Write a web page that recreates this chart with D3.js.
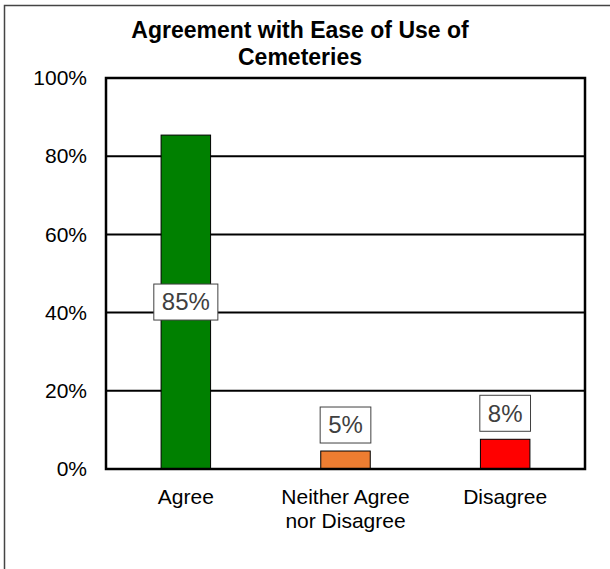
<!DOCTYPE html>
<html>
<head>
<meta charset="utf-8">
<script src="https://cdn.jsdelivr.net/npm/d3@7"></script>
<style>
  body { margin: 0; background: #fff; }
  svg text { font-family: "Liberation Sans", Arial, sans-serif; }
</style>
</head>
<body>
<div id="chart"></div>
<script>
// chart data
var categories = ["Agree", "Neither Agree|nor Disagree", "Disagree"];
var values = [0.854, 0.046, 0.076];
var colors = ["#008000", "#ED7D31", "#FF0000"];
var yTicks = [0, 0.2, 0.4, 0.6, 0.8, 1];
var titleLines = ["Agreement with Ease of Use of", "Cemeteries"];

var W = 610, H = 569;
var margin = { top: 78, right: 25, bottom: 100, left: 106 },
  width = W - margin.left - margin.right,
  height = H - margin.top - margin.bottom;

var svg = d3.select("#chart").append("svg")
  .attr("width", W)
  .attr("height", H);

// outer frame (cut off on right and bottom in the source)
svg.append("rect")
  .attr("x", 4.5).attr("y", 5.5)
  .attr("width", 700).attr("height", 700)
  .attr("fill", "none")
  .attr("stroke", "#444")
  .attr("stroke-width", 1.5);

var g = svg.append("g")
  .attr("transform", "translate(" + margin.left + "," + margin.top + ")");

var data = categories.map(function(c, i) {
  return { cat: c, value: values[i], color: colors[i] };
});

// scales
var x = d3.scaleBand()
  .domain(categories)
  .range([0, width])
  .paddingInner(0.69)
  .paddingOuter(0.345);

var y = d3.scaleLinear()
  .domain([0, 1])
  .range([height, 0]);

// gridlines
g.selectAll(".grid")
  .data(yTicks.slice(1, -1))
  .enter().append("line")
  .attr("x1", 0).attr("x2", width)
  .attr("y1", function(d) { return y(d); })
  .attr("y2", function(d) { return y(d); })
  .attr("stroke", "#000")
  .attr("stroke-width", 2);

// y axis
var yAxis = d3.axisLeft(y)
  .tickValues(yTicks)
  .tickSize(0)
  .tickPadding(19)
  .tickFormat(d3.format(".0%"));

g.append("g")
  .call(yAxis)
  .call(function(a) { a.select(".domain").remove(); })
  .selectAll("text")
  .style("font-size", "21px")
  .attr("fill", "#000");

// bars
g.selectAll(".bar")
  .data(data)
  .enter().append("rect")
  .attr("x", function(d) { return x(d.cat); })
  .attr("y", function(d) { return y(d.value); })
  .attr("width", x.bandwidth())
  .attr("height", function(d) { return height - y(d.value); })
  .attr("fill", function(d) { return d.color; })
  .attr("stroke", "#000")
  .attr("stroke-width", 1);

// plot frame
g.append("rect")
  .attr("x", 0).attr("y", 0)
  .attr("width", width).attr("height", height)
  .attr("fill", "none")
  .attr("stroke", "#000")
  .attr("stroke-width", 2.5);

// data labels
var fmt = d3.format(".0%");
var labels = g.selectAll(".lbl")
  .data(data)
  .enter().append("g")
  .attr("transform", function(d) {
    var cx = x(d.cat) + x.bandwidth() / 2;
    var cy = d.value > 0.5 ? y(d.value / 2) : y(d.value) - 26;
    return "translate(" + cx + "," + cy + ")";
  });

labels.append("text")
  .text(function(d) { return fmt(d.value); })
  .attr("text-anchor", "middle")
  .attr("dy", "0.35em")
  .style("font-size", "24px")
  .attr("fill", "#404040")
  .each(function() {
    var b = this.getBBox();
    d3.select(this.parentNode).insert("rect", "text")
      .attr("x", b.x - 8).attr("y", -18)
      .attr("width", b.width + 16).attr("height", 36)
      .attr("fill", "#fff")
      .attr("stroke", "#404040")
      .attr("stroke-width", 1);
  });

// category labels
g.selectAll(".cat")
  .data(data)
  .enter().append("text")
  .attr("x", function(d) { return x(d.cat) + x.bandwidth() / 2; })
  .attr("y", height + 35)
  .attr("text-anchor", "middle")
  .style("font-size", "21px")
  .attr("fill", "#000")
  .each(function(d) {
    var t = d3.select(this);
    d.cat.split("|").forEach(function(line, i) {
      t.append("tspan")
        .attr("x", x(d.cat) + x.bandwidth() / 2)
        .attr("dy", i === 0 ? 0 : 24)
        .text(line);
    });
  });

// title
svg.append("text")
  .attr("text-anchor", "middle")
  .style("font-size", "23px")
  .style("font-weight", "bold")
  .selectAll("tspan")
  .data(titleLines)
  .enter().append("tspan")
  .attr("x", 300)
  .attr("y", function(d, i) { return 38 + i * 27; })
  .text(function(d) { return d; });
</script>
</body>
</html>
